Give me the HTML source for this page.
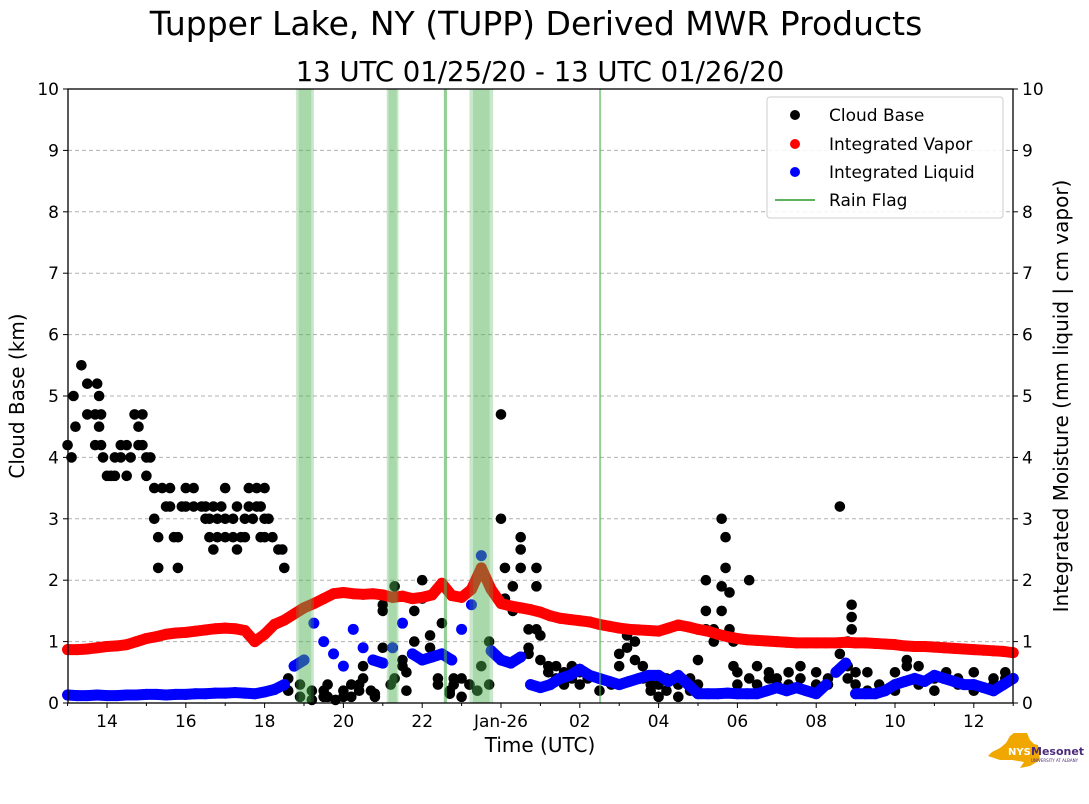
<!DOCTYPE html>
<html><head><meta charset="utf-8"><style>
html,body{margin:0;padding:0;background:#fff;}
svg{display:block;font-family:"DejaVu Sans","Liberation Sans",sans-serif;}
</style></head><body>
<svg id="chart" width="1089" height="804" viewBox="0 0 1089 804">
<text x="536" y="35" font-size="33" text-anchor="middle">Tupper Lake, NY (TUPP) Derived MWR Products</text>
<text x="540" y="81" font-size="27.5" text-anchor="middle">13 UTC 01/25/20 - 13 UTC 01/26/20</text>
<g id="grid"></g>
<g id="cloud"></g>
<g id="vapor"></g>
<g id="liquid"></g>
<g id="rain"></g>
<rect x="68" y="89" width="945" height="614" fill="none" stroke="#000" stroke-width="1.3"/>
<g id="axes"></g>
<text x="24" y="396" font-size="20" text-anchor="middle" transform="rotate(-90 24 396)">Cloud Base (km)</text>
<text x="1068" y="396" font-size="20" text-anchor="middle" transform="rotate(-90 1068 396)">Integrated Moisture (mm liquid | cm vapor)</text>
<text x="540" y="752" font-size="20" text-anchor="middle">Time (UTC)</text>
<g>
<rect x="767" y="97" width="236" height="121" rx="3" fill="#fff" fill-opacity="0.85" stroke="#ccc"/>
<g><circle cx="795" cy="115" r="5" fill="#000"/><text x="829" y="121" font-size="17">Cloud Base</text></g>
<g><circle cx="795" cy="144" r="5" fill="#f00"/><text x="829" y="150" font-size="17">Integrated Vapor</text></g>
<g><circle cx="795" cy="172" r="5" fill="#00f"/><text x="829" y="178" font-size="17">Integrated Liquid</text></g>
<g><line x1="775" y1="200" x2="815" y2="200" stroke="#5cb35c" stroke-width="2"/><text x="829" y="206" font-size="17">Rain Flag</text></g>
</g>
<g>
<polygon points="992,752 1000,748 1006,743 1010,736 1014,733 1027,733 1030,740 1034,744 1038,745 1040,760 1030,766 1020,768 1024,762 1012,760 1000,760 988,756" fill="#f0a800"/>
<text x="1008" y="755" font-size="10" font-weight="bold" fill="#fff">NYS</text>
<text x="1031" y="755" font-size="11" font-weight="bold" fill="#4a2a7a">Mesonet</text>
<text x="1031" y="762" font-size="4" fill="#4a2a7a">UNIVERSITY AT ALBANY</text>
</g>
</svg>
<script>
const yTicks=[0,1,2,3,4,5,6,7,8,9,10];
const xTickHours=[1,3,5,7,9,11,13,15,17,19,21,23];
const xTickLabels=["14","16","18","20","22","Jan-26","02","04","06","08","10","12"];
const vapor=[0.87,0.87,0.88,0.90,0.92, 0.93,0.95,1.00,1.05, 1.08,1.12,1.14,1.15, 1.17,1.19,1.21,1.22, 1.21,1.18,1.00,1.12, 1.28,1.35,1.45,1.55, 1.62,1.70,1.78,1.80, 1.78,1.77,1.78,1.76, 1.72,1.74,1.70,1.72, 1.76,1.95,1.75,1.72, 1.85,2.20,1.85,1.62, 1.58,1.55,1.52,1.48, 1.42,1.38,1.36,1.34, 1.32,1.28,1.25,1.22, 1.20,1.19,1.18,1.17, 1.22,1.27,1.24,1.20, 1.17,1.12,1.08,1.05, 1.03,1.02,1.01,1.00, 0.99,0.98,0.98,0.98, 0.98,0.98,0.99,0.98, 0.98,0.97,0.96,0.95, 0.93,0.92,0.92,0.91, 0.90,0.89,0.88,0.87, 0.86,0.85,0.84,0.82];
const liquid=[0.13,0.12,0.12,0.13,0.12, 0.12,0.13,0.13,0.14, 0.14,0.13,0.14,0.14, 0.15,0.15,0.16,0.16, 0.17,0.16,0.15,0.18, 0.22,0.30,0.60,0.70, 1.30,1.00,0.80,0.60, 1.20,0.90,0.70,0.65, 0.90,1.30,0.80,0.70, 0.75,0.80,0.70,1.20, 1.60,2.40,0.85,0.70, 0.65,0.75,0.30,0.25, 0.30,0.40,0.45,0.55, 0.45,0.40,0.35,0.30, 0.35,0.40,0.45,0.45, 0.35,0.45,0.30,0.15, 0.15,0.15,0.16,0.15, 0.15,0.15,0.20,0.25, 0.20,0.25,0.20,0.15, 0.30,0.50,0.65,0.15, 0.15,0.15,0.20,0.30, 0.35,0.40,0.35,0.45, 0.40,0.35,0.30,0.30, 0.25,0.20,0.30,0.40];
const cloudTimes=[0,0.1,0.15,0.2,0.35,0.5,0.5,0.7,0.7,0.75,0.8,0.8,0.85,0.85,0.9,1.0,1.1,1.2,1.2,1.35,1.35,1.5,1.5,1.6,1.7,1.8,1.8,1.9,1.9,2.0,2.0,2.1,2.2,2.2,2.3,2.3,2.4,2.5,2.6,2.6,2.7,2.8,2.8,2.9,3.0,3.0,3.2,3.2,3.4,3.5,3.5,3.6,3.6,3.7,3.7,3.8,3.8,3.9,4.0,4.0,4.0,4.2,4.2,4.3,4.3,4.4,4.5,4.5,4.6,4.6,4.7,4.8,4.8,4.9,4.9,5.0,5.0,5.0,5.1,5.2,5.35,5.45,5.5,
5.6,5.6,5.9,5.9,6.2,6.2,6.5,6.5,6.6,6.6,6.8,7.0,7.0,7.2,7.2,7.4,7.4,7.5,7.5,7.7,7.8,7.8,8.0,8.0,8.0,8.2,8.3,8.3,8.5,8.5,8.6,8.6,8.8,8.8,9.0,9.0,9.2,9.2,9.4,9.4,9.5,9.5,9.7,9.7,9.8,9.8,10.0,10.0,10.2,10.2,10.4,10.5,10.7,10.7,11.0,11.0,11.1,11.1,11.3,11.3,11.5,11.5,11.5,11.7,11.7,11.7,11.9,11.9,11.9,12.0,12.0,12.2,12.2,12.4,12.4,12.6,12.6,12.8,12.8,13.0,13.0,13.2,13.5,13.8,14.0,14.0,14.2,14.2,14.4,14.4,14.6,14.6,14.8,14.8,15.0,15.0,15.2,15.2,15.5,15.5,15.8,15.8,16.0,16.0,16.2,16.2,16.2,16.4,16.4,16.6,16.6,16.6,16.7,16.7,16.8,16.8,16.9,16.9,17.0,17.0,17.3,17.3,17.5,17.5,17.8,17.8,18.0,18.0,18.3,18.3,18.6,18.6,19.0,19.0,19.3,19.3,19.6,19.6,19.8,19.8,19.8,19.9,19.9,19.9,20.0,20.0,20.3,20.3,20.6,21.0,21.0,21.3,21.3,21.6,21.6,22.0,22.0,22.3,22.6,22.6,23.0,23.0,23.5,23.5,23.8,23.8];
const cloudKm=[4.2,4.0,5.0,4.5,5.5,4.7,5.2,4.2,4.7,5.2,4.5,5.0,4.7,4.2,4.0,3.7,3.7,3.7,4.0,4.0,4.2,3.7,4.2,4.0,4.7,4.5,4.2,4.7,4.2,4.0,3.7,4.0,3.5,3.0,2.2,2.7,3.5,3.2,3.5,3.2,2.7,2.2,2.7,3.2,3.2,3.5,3.5,3.2,3.2,3.0,3.2,2.7,3.0,2.5,3.2,2.7,3.0,3.2,3.5,3.0,2.7,3.0,2.7,2.5,3.2,2.7,2.7,3.0,3.2,3.5,3.0,3.5,3.2,2.7,3.2,3.5,3.0,2.7,3.0,2.7,2.5,2.5,2.2,
0.2,0.4,0.1,0.3,0.2,0.05,0.1,0.2,0.3,0.1,0.05,0.1,0.2,0.1,0.3,0.3,0.2,0.4,0.6,0.2,0.1,0.15,1.6,1.5,0.9,0.3,1.9,0.4,0.7,0.6,0.2,0.5,1.5,1.0,2.0,1.7,1.1,0.9,0.3,0.4,1.3,0.8,0.2,0.15,0.3,0.4,0.4,0.1,0.3,0.3,0.2,0.6,1.0,0.3,4.7,3.0,2.2,1.7,1.9,1.5,2.7,2.5,2.2,1.2,0.9,0.8,1.9,2.2,1.2,1.1,0.7,0.5,0.6,0.6,0.4,0.5,0.3,0.4,0.6,0.3,0.5,0.4,0.2,0.3,0.6,0.8,1.1,0.9,1.0,0.7,0.6,0.4,0.3,0.2,0.1,0.3,0.2,0.4,0.1,0.3,0.4,0.2,0.7,0.3,2.0,1.2,1.5,1.2,1.0,1.9,1.5,3.0,2.2,2.7,1.8,1.2,0.6,1.0,0.5,0.3,2.0,0.4,0.6,0.3,0.4,0.5,0.3,0.4,0.5,0.3,0.4,0.6,0.3,0.5,0.4,0.3,3.2,0.8,0.4,0.6,1.0,1.2,1.4,1.6,0.5,0.3,0.2,0.5,0.3,0.2,0.5,0.7,0.6,0.3,0.6,0.2,0.4,0.5,0.4,0.3,0.5,0.2,0.4,0.3,0.5,0.4];
const rainStart=[5.8,8.1,9.55,10.2,13.49];
const rainEnd=[6.25,8.4,9.63,10.8,13.53];

const NS="http://www.w3.org/2000/svg";
const X0=67.6,PXH=39.4,Y0=703,PXK=61.4;
function xs(t){return X0+t*PXH;}
function ys(v){return Y0-v*PXK;}
function mk(tag,attrs,parent){const e=document.createElementNS(NS,tag);for(const k in attrs)e.setAttribute(k,attrs[k]);parent.appendChild(e);return e;}
const grid=document.getElementById('grid'),axes=document.getElementById('axes');
yTicks.forEach(v=>{
  const y=ys(v);
  if(v>0&&v<10){const g=mk('line',{x1:68,x2:1013,y1:y,y2:y,stroke:'#b0b0b0','stroke-dasharray':'4,3','stroke-width':1},grid);
  
  }
  mk('line',{x1:63,x2:68,y1:y,y2:y,stroke:'#000'},axes);
  mk('line',{x1:1013,x2:1018,y1:y,y2:y,stroke:'#000'},axes);
  const l=mk('text',{x:59,y:y+6,'font-size':17,'text-anchor':'end'},axes);l.textContent=v;
  
  
  const r=mk('text',{x:1022,y:y+6,'font-size':17},axes);r.textContent=v;
  
  
});
xTickHours.forEach((h,i)=>{
  const x=xs(h);
  mk('line',{x1:x,x2:x,y1:703,y2:708,stroke:'#000'},axes);
  const t=mk('text',{x:x,y:727,'font-size':17,'text-anchor':'middle'},axes);t.textContent=xTickLabels[i];
  
  
});
for(let h=0;h<=24;h++){if(h%2===0){const x=xs(h);mk('line',{x1:x,x2:x,y1:703,y2:706,stroke:'#000'},axes);}}
const cg=document.getElementById('cloud');
cloudTimes.forEach((t,i)=>{const c=mk('circle',{cx:xs(t),cy:ys(cloudKm[i]),r:5.3,fill:'#000'},cg);
  
  });
const vg=document.getElementById('vapor');
let vp='';vapor.forEach((v,i)=>{vp+=(i?'L':'M')+xs(i*0.25)+','+ys(v);});
mk('path',{d:vp,stroke:'#f00','stroke-width':11,fill:'none','stroke-linejoin':'round','stroke-linecap':'round'},vg);
vapor.forEach((v,i)=>{const c=mk('circle',{cx:xs(i*0.25),cy:ys(v),r:5.5,fill:'#f00'},vg);
  
  });
const lg=document.getElementById('liquid');
let lp='';
for(let i=1;i<liquid.length;i++){
  if(Math.abs(liquid[i]-liquid[i-1])<0.16){lp+='M'+xs((i-1)*0.25)+','+ys(liquid[i-1])+'L'+xs(i*0.25)+','+ys(liquid[i]);}
}
mk('path',{d:lp,stroke:'#00f','stroke-width':11,fill:'none','stroke-linecap':'round'},lg);
liquid.forEach((v,i)=>{const c=mk('circle',{cx:xs(i*0.25),cy:ys(v),r:5.5,fill:'#00f'},lg);
  
  });
const rg=document.getElementById('rain');
rainStart.forEach((s,i)=>{
  const x1=xs(s),x2=xs(rainEnd[i]),w=Math.max(x2-x1,2);
  const r=mk('rect',{x:x1,y:89,width:w,height:614,fill:'#4caf50','fill-opacity':0.3},rg);
  
  
  if(w>8){mk('rect',{x:x1+w*0.15,y:89,width:w*0.7,height:614,fill:'#4caf50','fill-opacity':0.25},rg);}
  else{mk('rect',{x:x1,y:89,width:w,height:614,fill:'#4caf50','fill-opacity':0.4},rg);}
});
</script>
</body></html>
